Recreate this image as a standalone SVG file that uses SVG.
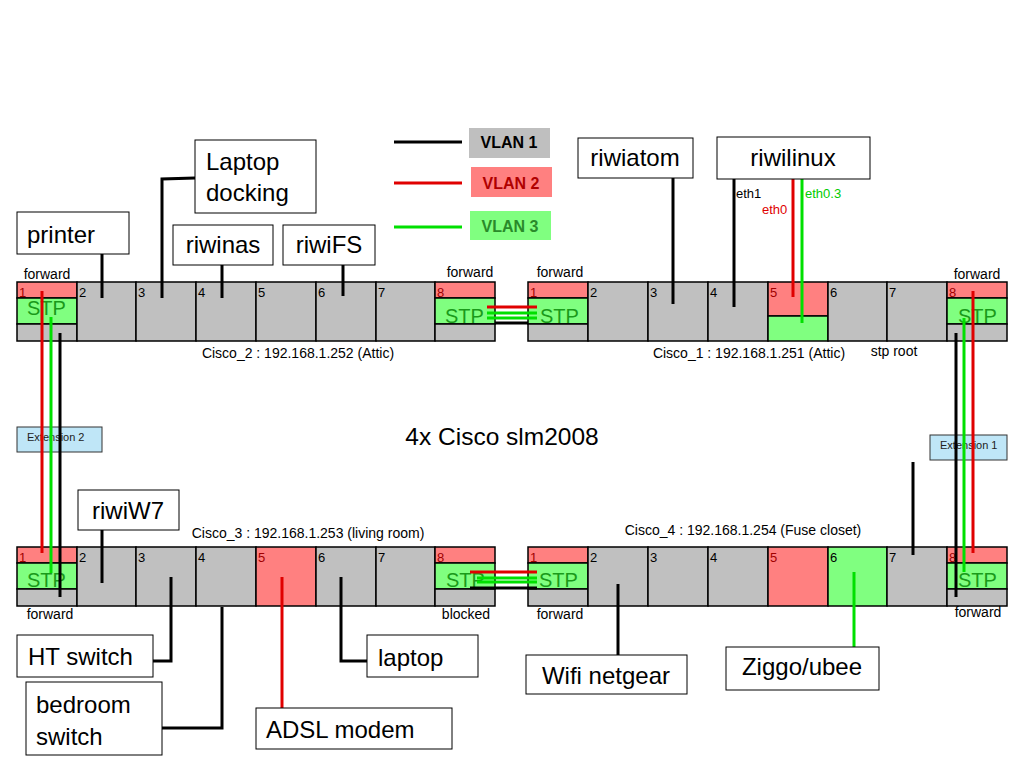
<svg xmlns="http://www.w3.org/2000/svg" width="1024" height="768" viewBox="0 0 1024 768">
<style>
text{font-family:"Liberation Sans",Arial,sans-serif;}
.g{fill:#c0c0c0;stroke:#000;stroke-width:1.5}
.r{fill:#ff8080;stroke:#000;stroke-width:1.5}
.v{fill:#80ff80;stroke:#000;stroke-width:1.5}
.pn{font-size:13px;fill:#000}
.pr{font-size:13px;fill:#a00000}
.stp{font-size:20px;fill:#1a9a1a}
.sm{font-size:14px;fill:#000}
.nb{fill:#fff;stroke:#000;stroke-width:1}
.nt{font-size:24px;fill:#000}
.ext{fill:#bfe6f7;stroke:#333;stroke-width:1}
.et{font-size:11px;fill:#222}
.k{stroke:#000;stroke-width:3;fill:none}
.rl{stroke:#e00000;stroke-width:3;fill:none}
.gl{stroke:#00e000;stroke-width:3;fill:none}
</style>

<!-- Legend -->
<g id="legend">
<line x1="394" y1="142" x2="462" y2="142" class="k"/>
<rect x="469" y="128" width="81" height="30" fill="#bfbfbf"/>
<text x="509" y="148" font-size="16" font-weight="bold" text-anchor="middle" fill="#000">VLAN 1</text>
<line x1="394" y1="183" x2="462" y2="183" class="rl"/>
<rect x="471" y="167" width="81" height="30" fill="#ff8080"/>
<text x="511" y="189" font-size="16" font-weight="bold" text-anchor="middle" fill="#b00000">VLAN 2</text>
<line x1="394" y1="227" x2="462" y2="227" class="gl"/>
<rect x="470" y="211" width="81" height="29" fill="#80ff80"/>
<text x="510" y="232" font-size="16" font-weight="bold" text-anchor="middle" fill="#2a8a2a">VLAN 3</text>
</g>

<text x="502" y="445" font-size="24.5" text-anchor="middle" fill="#000">4x Cisco slm2008</text>

<!-- Cisco_2 -->
<g id="cisco2">
<rect x="17" y="282" width="60" height="16" class="r"/>
<rect x="17" y="298" width="60" height="26" class="v"/>
<rect x="17" y="324" width="60" height="17" class="g"/>
<rect x="77" y="282" width="59" height="59" class="g"/>
<rect x="136" y="282" width="60" height="59" class="g"/>
<rect x="196" y="282" width="60" height="59" class="g"/>
<rect x="256" y="282" width="60" height="59" class="g"/>
<rect x="316" y="282" width="60" height="59" class="g"/>
<rect x="376" y="282" width="59" height="59" class="g"/>
<rect x="435" y="282" width="60" height="16" class="r"/>
<rect x="435" y="298" width="60" height="26" class="v"/>
<rect x="435" y="324" width="60" height="17" class="g"/>
<text x="19" y="297" class="pr">1</text>
<text x="79" y="297" class="pn">2</text>
<text x="138" y="297" class="pn">3</text>
<text x="198" y="297" class="pn">4</text>
<text x="258" y="297" class="pn">5</text>
<text x="318" y="297" class="pn">6</text>
<text x="378" y="297" class="pn">7</text>
<text x="437" y="297" class="pr">8</text>
<text x="27" y="315" class="stp">STP</text>
<text x="445" y="323" class="stp">STP</text>
<text x="47" y="279" class="sm" text-anchor="middle">forward</text>
<text x="470" y="277" class="sm" text-anchor="middle">forward</text>
<text x="298" y="358" class="sm" text-anchor="middle">Cisco_2 : 192.168.1.252 (Attic)</text>
</g>

<!-- Cisco_1 -->
<g id="cisco1">
<rect x="528" y="282" width="60" height="16" class="r"/>
<rect x="528" y="298" width="60" height="26" class="v"/>
<rect x="528" y="324" width="60" height="17" class="g"/>
<rect x="588" y="282" width="60" height="59" class="g"/>
<rect x="648" y="282" width="60" height="59" class="g"/>
<rect x="708" y="282" width="60" height="59" class="g"/>
<rect x="768" y="282" width="60" height="34" class="r"/>
<rect x="768" y="316" width="60" height="25" class="v"/>
<rect x="828" y="282" width="59" height="59" class="g"/>
<rect x="887" y="282" width="60" height="59" class="g"/>
<rect x="947" y="282" width="60" height="16" class="r"/>
<rect x="947" y="298" width="60" height="26" class="v"/>
<rect x="947" y="324" width="60" height="17" class="g"/>
<text x="530" y="297" class="pr">1</text>
<text x="590" y="297" class="pn">2</text>
<text x="650" y="297" class="pn">3</text>
<text x="710" y="297" class="pn">4</text>
<text x="770" y="297" class="pr">5</text>
<text x="830" y="297" class="pn">6</text>
<text x="889" y="297" class="pn">7</text>
<text x="949" y="297" class="pr">8</text>
<text x="540" y="323" class="stp">STP</text>
<text x="958" y="323" class="stp">STP</text>
<text x="560" y="277" class="sm" text-anchor="middle">forward</text>
<text x="977" y="279" class="sm" text-anchor="middle">forward</text>
<text x="749" y="358" class="sm" text-anchor="middle">Cisco_1 : 192.168.1.251 (Attic)</text>
<text x="894" y="356" class="sm" text-anchor="middle">stp root</text>
</g>

<!-- Cisco_3 -->
<g id="cisco3">
<rect x="17" y="547" width="60" height="16" class="r"/>
<rect x="17" y="563" width="60" height="26" class="v"/>
<rect x="17" y="589" width="60" height="17" class="g"/>
<rect x="77" y="547" width="59" height="59" class="g"/>
<rect x="136" y="547" width="60" height="59" class="g"/>
<rect x="196" y="547" width="60" height="59" class="g"/>
<rect x="256" y="547" width="60" height="59" class="r"/>
<rect x="316" y="547" width="60" height="59" class="g"/>
<rect x="376" y="547" width="59" height="59" class="g"/>
<rect x="435" y="547" width="60" height="16" class="r"/>
<rect x="435" y="563" width="60" height="26" class="v"/>
<rect x="435" y="589" width="60" height="17" class="g"/>
<text x="19" y="562" class="pr">1</text>
<text x="79" y="562" class="pn">2</text>
<text x="138" y="562" class="pn">3</text>
<text x="198" y="562" class="pn">4</text>
<text x="258" y="562" class="pr">5</text>
<text x="318" y="562" class="pn">6</text>
<text x="378" y="562" class="pn">7</text>
<text x="437" y="562" class="pr">8</text>
<text x="27" y="587" class="stp">STP</text>
<text x="446" y="587" class="stp">STP</text>
<text x="50" y="619" class="sm" text-anchor="middle">forward</text>
<text x="466" y="619" class="sm" text-anchor="middle">blocked</text>
<text x="308" y="538" class="sm" text-anchor="middle">Cisco_3 : 192.168.1.253 (living room)</text>
</g>

<!-- Cisco_4 -->
<g id="cisco4">
<rect x="528" y="547" width="60" height="16" class="r"/>
<rect x="528" y="563" width="60" height="26" class="v"/>
<rect x="528" y="589" width="60" height="17" class="g"/>
<rect x="588" y="547" width="60" height="59" class="g"/>
<rect x="648" y="547" width="60" height="59" class="g"/>
<rect x="708" y="547" width="60" height="59" class="g"/>
<rect x="768" y="547" width="60" height="59" class="r"/>
<rect x="828" y="547" width="59" height="59" class="v"/>
<rect x="887" y="547" width="60" height="59" class="g"/>
<rect x="947" y="547" width="60" height="16" class="r"/>
<rect x="947" y="563" width="60" height="26" class="v"/>
<rect x="947" y="589" width="60" height="17" class="g"/>
<text x="530" y="562" class="pr">1</text>
<text x="590" y="562" class="pn">2</text>
<text x="650" y="562" class="pn">3</text>
<text x="710" y="562" class="pn">4</text>
<text x="770" y="562" class="pr">5</text>
<text x="830" y="562" class="pn">6</text>
<text x="889" y="562" class="pn">7</text>
<text x="949" y="562" class="pr">8</text>
<text x="539" y="587" class="stp">STP</text>
<text x="958" y="587" class="stp">STP</text>
<text x="560" y="619" class="sm" text-anchor="middle">forward</text>
<text x="978" y="617" class="sm" text-anchor="middle">forward</text>
<text x="743" y="535" class="sm" text-anchor="middle">Cisco_4 : 192.168.1.254 (Fuse closet)</text>
</g>

<!-- Extension boxes -->
<g id="ext2">
<rect x="17" y="427" width="85" height="25" class="ext"/>
<text x="27" y="441" class="et">Extension 2</text>
</g>
<g id="ext1">
<rect x="930" y="435" width="77" height="25" class="ext"/>
<text x="940" y="449" class="et">Extension 1</text>
</g>

<!-- Connectors -->
<g id="connectors">
<line x1="487" y1="307" x2="537" y2="307" class="rl" stroke-width="2.5"/>
<line x1="487" y1="313" x2="537" y2="313" class="gl" stroke-width="2.5"/>
<line x1="487" y1="318" x2="537" y2="318" class="gl" stroke-width="2.5"/>
<line x1="495" y1="323" x2="528" y2="323" class="k" stroke-width="2.5"/>
<line x1="470" y1="572" x2="537" y2="572" class="rl" stroke-width="2.5"/>
<line x1="477" y1="578" x2="537" y2="578" class="gl" stroke-width="2.5"/>
<line x1="477" y1="582" x2="537" y2="582" class="gl" stroke-width="2.5"/>
<line x1="470" y1="588" x2="537" y2="588" class="k" stroke-width="2.5"/>
<line x1="42" y1="291" x2="42" y2="553" class="rl"/>
<line x1="51" y1="317" x2="51" y2="573" class="gl"/>
<line x1="60" y1="333" x2="60" y2="597" class="k"/>
<line x1="973" y1="291" x2="973" y2="553" class="rl"/>
<line x1="964" y1="318" x2="964" y2="572" class="gl"/>
<line x1="956" y1="333" x2="956" y2="597" class="k"/>
<line x1="913" y1="462" x2="913" y2="555" class="k"/>
<line x1="102" y1="254" x2="102" y2="298" class="k"/>
<polyline points="195,178 162,179 162,298" class="k"/>
<line x1="222" y1="265" x2="222" y2="298" class="k"/>
<line x1="343" y1="265" x2="343" y2="296" class="k"/>
<line x1="673" y1="178" x2="673" y2="304" class="k"/>
<line x1="734" y1="179" x2="734" y2="307" class="k"/>
<line x1="793" y1="179" x2="793" y2="297" class="rl"/>
<line x1="802" y1="179" x2="802" y2="323" class="gl"/>
<line x1="102" y1="530" x2="102" y2="583" class="k"/>
<polyline points="147,661 171,661 171,577" class="k"/>
<polyline points="162,728 222,728 222,607" class="k"/>
<line x1="282" y1="577" x2="282" y2="708" class="rl"/>
<polyline points="341,577 341,661 367,661" class="k"/>
<line x1="618" y1="584" x2="618" y2="655" class="k"/>
<line x1="854" y1="572" x2="854" y2="647" class="gl"/>
</g>
<text x="736" y="198" font-size="13" fill="#000">eth1</text>
<text x="762" y="214" font-size="13" fill="#e00000">eth0</text>
<text x="805" y="198" font-size="13" fill="#00cc00">eth0.3</text>

<!-- Nodes -->
<g id="printer"><rect x="17" y="212" width="112" height="42" class="nb"/><text x="27" y="243" class="nt">printer</text></g>
<g id="laptop-docking"><rect x="195" y="140" width="121" height="73" class="nb"/><text x="206" y="170" class="nt">Laptop</text><text x="206" y="201" class="nt">docking</text></g>
<g id="riwinas"><rect x="173" y="225" width="100" height="40" class="nb"/><text x="223" y="253" class="nt" text-anchor="middle">riwinas</text></g>
<g id="riwifs"><rect x="283" y="225" width="92" height="40" class="nb"/><text x="329" y="253" class="nt" text-anchor="middle">riwiFS</text></g>
<g id="riwiatom"><rect x="578" y="138" width="115" height="40" class="nb"/><text x="635" y="166" class="nt" text-anchor="middle">riwiatom</text></g>
<g id="riwilinux"><rect x="717" y="137" width="153" height="42" class="nb"/><text x="793" y="166" class="nt" text-anchor="middle">riwilinux</text></g>
<g id="riwiw7"><rect x="78" y="490" width="101" height="40" class="nb"/><text x="128" y="519" class="nt" text-anchor="middle">riwiW7</text></g>
<g id="ht-switch"><rect x="17" y="635" width="136" height="42" class="nb"/><text x="28" y="665" class="nt">HT switch</text></g>
<g id="bedroom-switch"><rect x="26" y="682" width="136" height="73" class="nb"/><text x="36" y="713" class="nt">bedroom</text><text x="36" y="745" class="nt">switch</text></g>
<g id="adsl-modem"><rect x="256" y="708" width="196" height="41" class="nb"/><text x="266" y="738" class="nt">ADSL modem</text></g>
<g id="laptop"><rect x="367" y="635" width="111" height="42" class="nb"/><text x="378" y="666" class="nt">laptop</text></g>
<g id="wifi-netgear"><rect x="526" y="655" width="161" height="39" class="nb"/><text x="606" y="684" class="nt" text-anchor="middle">Wifi netgear</text></g>
<g id="ziggo-ubee"><rect x="726" y="647" width="153" height="43" class="nb"/><text x="802" y="675" class="nt" text-anchor="middle">Ziggo/ubee</text></g>
</svg>
